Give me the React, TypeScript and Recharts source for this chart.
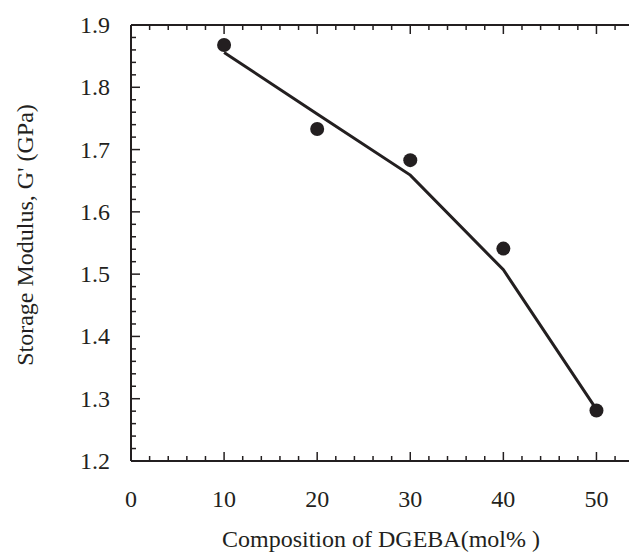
import { ComposedChart, Line, Scatter, XAxis, YAxis } from "recharts"

const compositions = [10, 20, 30, 40, 50]
const measuredModulus = [1.868, 1.733, 1.683, 1.541, 1.281]
const fittedModulus = [1.856, 1.757, 1.659, 1.507, 1.283]

const xMajorTicks = [0, 10, 20, 30, 40, 50]
const yMajorTicks = [1.2, 1.3, 1.4, 1.5, 1.6, 1.7, 1.8, 1.9]

const INK = "#231f20"
const FONT = "Liberation Serif"

// minor ticks: 5 divisions between majors
const xTicks: number[] = []
for (let i = 0; i <= 27; i++) xTicks.push(i * 2)
const yTicks: number[] = []
for (let i = 0; i <= 35; i++) yTicks.push(Math.round((1.2 + i * 0.02) * 100) / 100)

const isXMajor = (v: number) => xMajorTicks.includes(v)
const isYMajor = (v: number) => yMajorTicks.some((m) => Math.abs(m - v) < 1e-6)

const lineData = compositions.map((x, i) => ({ x, y: fittedModulus[i] }))
const pointData = compositions.map((x, i) => ({ x, y: measuredModulus[i] }))

const textStyle = { fontFamily: FONT, fontSize: 24, fill: INK }

const BottomTick = ({ x, y, payload }: any) => {
  const major = isXMajor(payload.value)
  return (
    <g>
      <line x1={x} x2={x} y1={y} y2={y - (major ? 9 : 5)} stroke={INK} strokeWidth={1.5} />
      {major && (
        <text x={x} y={y + 46} textAnchor="middle" style={textStyle}>
          {payload.value}
        </text>
      )}
    </g>
  )
}

const TopTick = ({ x, y, payload }: any) => {
  const major = isXMajor(payload.value)
  return <line x1={x} x2={x} y1={y} y2={y + (major ? 9 : 5)} stroke={INK} strokeWidth={1.5} />
}

const LeftTick = ({ x, y, payload }: any) => {
  const major = isYMajor(payload.value)
  return (
    <g>
      <line x1={x} x2={x + (major ? 9 : 5)} y1={y} y2={y} stroke={INK} strokeWidth={1.5} />
      {major && (
        <text x={x - 21} y={y + 8} textAnchor="end" style={textStyle}>
          {payload.value.toFixed(1)}
        </text>
      )}
    </g>
  )
}

const RightTick = ({ x, y, payload }: any) => {
  const major = isYMajor(payload.value)
  return <line x1={x} x2={x - (major ? 8 : 5)} y1={y} y2={y} stroke={INK} strokeWidth={1.5} />
}

const XTitle = ({ viewBox }: any) => (
  <text x={viewBox.x + viewBox.width / 2 - 6} y={viewBox.y + 86} textAnchor="middle" style={textStyle}>
    Composition of DGEBA(mol% )
  </text>
)

const YTitle = ({ viewBox }: any) => {
  const cx = 17
  const cy = viewBox.y + viewBox.height / 2 - 8
  return (
    <text
      x={cx}
      y={cy}
      dy="0.35em"
      transform={`rotate(-90, ${cx}, ${cy})`}
      textAnchor="middle"
      style={textStyle}
    >
      Storage Modulus, G' (GPa)
    </text>
  )
}

export default function App() {
  return (
    <div style={{ width: 629, height: 545, overflow: "hidden", background: "#fff" }}>
      <ComposedChart width={636} height={545} data={lineData} margin={{ top: 16, right: 0, bottom: 0, left: 0 }}>
        <XAxis
          xAxisId="bottom"
          dataKey="x"
          type="number"
          domain={[0, 55]}
          ticks={xTicks}
          interval={0}
          tickSize={0}
          tickMargin={0}
          height={92}
          tick={<BottomTick />}
          axisLine={{ stroke: INK, strokeWidth: 2 }}
          label={<XTitle />}
        />
        <XAxis
          xAxisId="top"
          orientation="top"
          dataKey="x"
          type="number"
          domain={[0, 55]}
          ticks={xTicks}
          interval={0}
          tickSize={0}
          tickMargin={0}
          height={1}
          tick={<TopTick />}
          axisLine={{ stroke: INK, strokeWidth: 2 }}
        />
        <YAxis
          yAxisId="left"
          type="number"
          domain={[1.2, 1.9]}
          ticks={yTicks}
          interval={0}
          tickSize={0}
          tickMargin={0}
          width={123}
          tick={<LeftTick />}
          axisLine={{ stroke: INK, strokeWidth: 2 }}
          label={<YTitle />}
        />
        <YAxis
          yAxisId="right"
          orientation="right"
          type="number"
          domain={[1.2, 1.9]}
          ticks={yMajorTicks}
          interval={0}
          tickSize={0}
          tickMargin={0}
          width={1}
          tick={<RightTick />}
          axisLine={{ stroke: INK, strokeWidth: 2 }}
        />
        <Line
          xAxisId="bottom"
          yAxisId="left"
          dataKey="y"
          stroke={INK}
          strokeWidth={3}
          dot={false}
          type="linear"
          isAnimationActive={false}
        />
        <Scatter
          xAxisId="bottom"
          yAxisId="left"
          data={pointData}
          dataKey="y"
          fill={INK}
          shape={(p: any) => <circle cx={p.cx} cy={p.cy} r={7} fill={INK} />}
          isAnimationActive={false}
        />
      </ComposedChart>
    </div>
  )
}
